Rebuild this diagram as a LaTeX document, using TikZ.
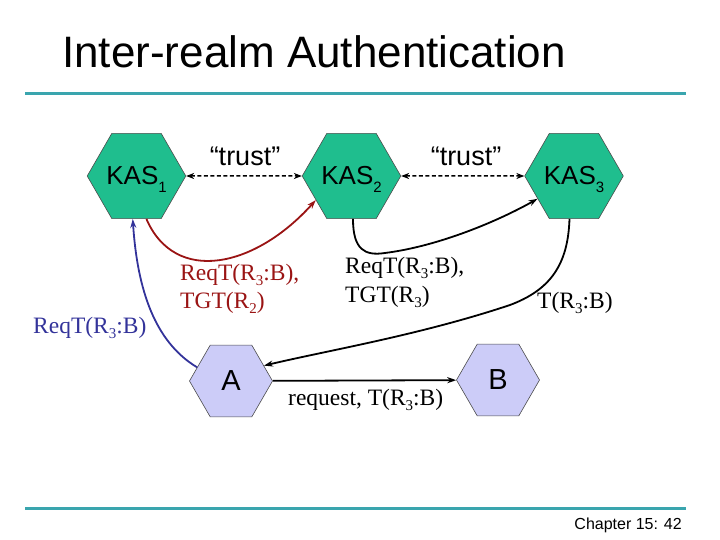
\documentclass[tikz,border=0pt]{standalone}
\usepackage{fontspec}
\setmainfont{Liberation Serif}
\newfontfamily\arialf{Liberation Sans}
\usetikzlibrary{shapes.geometric,arrows.meta}
\definecolor{rulecol}{HTML}{3AA5AE}
\definecolor{kasgreen}{HTML}{1FBE8E}
\definecolor{hostfill}{HTML}{CCCCF8}
\definecolor{redc}{HTML}{9A1414}
\definecolor{bluec}{HTML}{33339A}
\newcommand\ksub[1]{\raisebox{-8pt}[0pt][0pt]{\fontsize{15}{15}\selectfont #1}}
\newcommand\tsub[1]{\raisebox{-5pt}[0pt][0pt]{\fontsize{15}{15}\selectfont #1}}
\tikzset{
  hexbase/.style={regular polygon, regular polygon sides=6, minimum size=83pt,
    inner sep=0pt, draw=black!70, line width=0.6pt},
  kas/.style={hexbase, fill=kasgreen, font=\arialf\fontsize{26}{26}\selectfont},
  host/.style={hexbase, fill=hostfill, font=\arialf\fontsize{29}{29}\selectfont},
  lbl/.style={inner sep=0pt, anchor=base west, font=\fontsize{23.5}{23.5}\selectfont},
  trustlbl/.style={inner sep=0pt, font=\arialf\fontsize{27}{27}\selectfont},
  trustarr/.style={line width=1.5pt, dash pattern=on 4pt off 2.5pt,
    {Stealth[length=8pt,width=6pt]}-{Stealth[length=8pt,width=6pt]}},
  arr/.style={line width=1.8pt, -{Stealth[length=9pt,width=6pt]}},
  rule/.style={rulecol, line width=3pt}
}
\begin{document}
\begin{tikzpicture}[x=1pt,y=-1pt]
\useasboundingbox (0,0) rectangle (720,540);
% title and rules
\node[inner sep=0pt, anchor=base west, font=\arialf\fontsize{44}{44}\selectfont] (title) at (62,68) {Inter-realm Authentication};
\draw[rule] (25,94) -- (686,94);
\draw[rule] (25,508) -- (686,508);
\node[inner sep=0pt, anchor=base east, font=\arialf\fontsize{16}{16}\selectfont] (foot) at (682,529) {Chapter 15: 42};
% nodes
\node[kas] (k1) at (136.5,176) {KAS\ksub{1}};
\node[kas] (k2) at (351.5,176) {KAS\ksub{2}};
\node[kas] (k3) at (574,176) {KAS\ksub{3}};
\node[host] (a) at (231,381) {A};
\node[host] (b) at (498,380) {B};
% trust
\draw[trustarr] (k1) -- (k2);
\draw[trustarr] (k2) -- (k3);
\node[trustlbl] (tr1) at (245,156) {“trust”};
\node[trustlbl] (tr2) at (466,156) {“trust”};
% curves
\draw[arr, bluec] (a.158) .. controls (160,345) and (138,300) .. (k1.-95);
\draw[arr, redc] (k1.-77) .. controls (175,285) and (255,268) .. (k2.-146);
\draw[arr] (k2.-88) .. controls (353,250) and (365,256) .. (385,253)
   .. controls (440,246) and (500,220) .. (k3.-148);
\draw[arr] (k3.-96) .. controls (568,265) and (550,290) .. (510,305)
   .. controls (420,335) and (330,350) .. (a.25);
\draw[arr] (a) -- (b);
% labels
\node[lbl, text=bluec] (lb) at (33,333) {ReqT(R\tsub{3}:B)};
\node[lbl, text=redc] (lr1) at (180,280) {ReqT(R\tsub{3}:B),};
\node[lbl, text=redc] (lr2) at (180,308) {TGT(R\tsub{2})};
\node[lbl] (lk1) at (345,273) {ReqT(R\tsub{3}:B),};
\node[lbl] (lk2) at (345,302) {TGT(R\tsub{3})};
\node[lbl] (lt) at (537,308) {T(R\tsub{3}:B)};
\node[lbl] (lrq) at (288,405) {request, T(R\tsub{3}:B)};
\end{tikzpicture}
\end{document}
